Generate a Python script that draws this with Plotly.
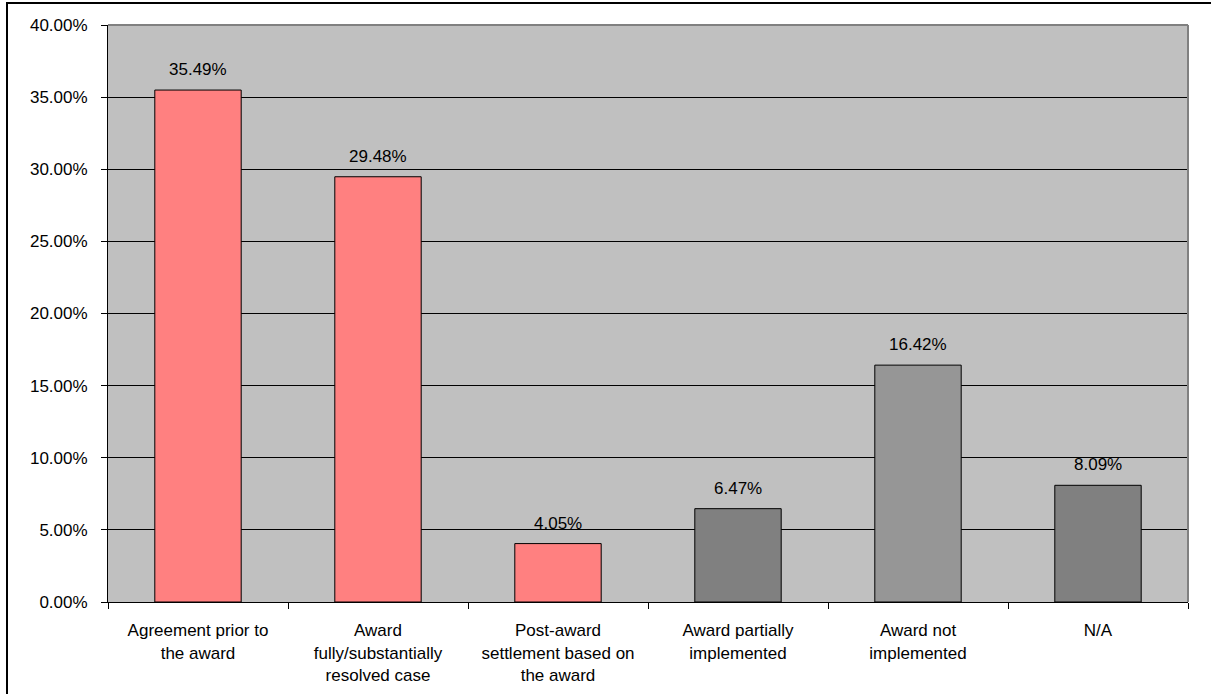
import plotly.graph_objects as go

categories = [
    "Agreement prior to<br>the award",
    "Award<br>fully/substantially<br>resolved case",
    "Post-award<br>settlement based on<br>the award",
    "Award partially<br>implemented",
    "Award not<br>implemented",
    "N/A",
]
values = [0.3549, 0.2948, 0.0405, 0.0647, 0.1642, 0.0809]
labels = ["35.49%", "29.48%", "4.05%", "6.47%", "16.42%", "8.09%"]
colors = ["#FF8080", "#FF8080", "#FF8080", "#808080", "#969696", "#808080"]

FONT = "Liberation Sans, Arial, sans-serif"
FS = 17

fig = go.Figure()
fig.add_trace(go.Bar(
    x=categories, y=values,
    marker=dict(color=colors, line=dict(color="black", width=1)),
    hoverinfo="skip",
))

for c, v, t in zip(categories, values, labels):
    fig.add_annotation(x=c, y=v, text=t, showarrow=False, yanchor="bottom",
                       yshift=9, font=dict(family=FONT, size=FS, color="black"))

# plot-area border (top/right gray)
fig.add_shape(type="line", xref="paper", yref="paper", x0=0, x1=1, y0=1, y1=1,
              line=dict(color="#808080", width=2), layer="above")
fig.add_shape(type="line", xref="paper", yref="paper", x0=1, x1=1, y0=0, y1=1,
              line=dict(color="#808080", width=2), layer="above")
# outer chart border (partially clipped by the image)
fig.add_shape(type="rect", xref="paper", yref="paper",
              x0=(7 - 108) / 1080, x1=2.0, y0=-1.0, y1=(602 - 3) / 577,
              line=dict(color="black", width=2), fillcolor="rgba(0,0,0,0)", layer="above")

fig.update_layout(
    width=1211, height=694,
    margin=dict(l=108, r=23, t=25, b=92),
    paper_bgcolor="white",
    plot_bgcolor="#C0C0C0",
    bargap=0.52,
    showlegend=False,
    font=dict(family=FONT, size=FS, color="black"),
    xaxis=dict(
        type="category", showline=True, linecolor="black", linewidth=1,
        ticks="outside", tickson="boundaries", ticklen=6, tickcolor="black",
        showgrid=False, tickfont=dict(family=FONT, size=FS, color="black"),
        ticklabelstandoff=13, automargin=False,
    ),
    yaxis=dict(
        range=[0, 0.4], dtick=0.05, tickformat=".2%",
        showline=True, linecolor="black", linewidth=1,
        ticks="outside", ticklen=6, tickcolor="black",
        showgrid=True, gridcolor="black", gridwidth=1, zeroline=False,
        tickfont=dict(family=FONT, size=FS, color="black"),
        ticklabelstandoff=10, automargin=False,
    ),
)

fig.write_html("out.html")
